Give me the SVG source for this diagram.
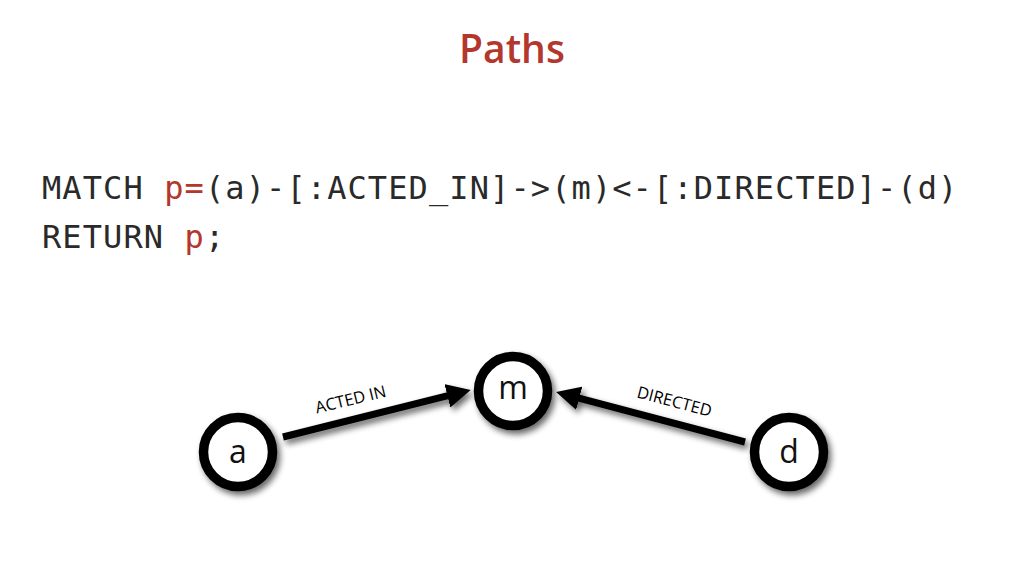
<svg xmlns="http://www.w3.org/2000/svg" width="1024" height="576" viewBox="0 0 1024 576">
<style>
.title{font-family:"Open Sans","Noto Sans",sans-serif;font-size:39px;font-weight:600;fill:#b3372d;text-anchor:middle}
.code{font-family:"DejaVu Sans Mono","Liberation Mono",monospace;font-size:32px;letter-spacing:1.1px;fill:#2a2a2a}
.red{fill:#b3372d}
.node circle{fill:#fff;stroke:#000;stroke-width:9.5}
.node text{font-family:"Open Sans","Noto Sans",sans-serif;font-size:32px;fill:#111;text-anchor:middle}
.edge line{stroke:#000;stroke-width:7}
.lbl{font-family:"Open Sans","Noto Sans",sans-serif;font-size:16.5px;fill:#000;text-anchor:middle}
</style>
<defs>
<filter id="sh" x="-30%" y="-30%" width="160%" height="160%">
<feGaussianBlur in="SourceAlpha" stdDeviation="3"/>
<feOffset dx="3" dy="4" result="b"/>
<feComponentTransfer><feFuncA type="linear" slope="0.6"/></feComponentTransfer>
<feMerge><feMergeNode/><feMergeNode in="SourceGraphic"/></feMerge>
</filter>
<marker id="ah" markerUnits="userSpaceOnUse" markerWidth="24" markerHeight="24" refX="14" refY="12" orient="auto">
<path d="M0,0 L24,12 L0,24 z" fill="#000"/>
</marker>
</defs>
<rect width="1024" height="576" fill="#fff"/>
<text class="title" x="512" y="63">Paths</text>
<text class="code" x="42" y="199">MATCH <tspan class="red">p=</tspan>(a)-[:ACTED_IN]-&gt;(m)&lt;-[:DIRECTED]-(d)</text>
<text class="code" x="42" y="248">RETURN <tspan class="red">p</tspan>;</text>
<g id="connectors" filter="url(#sh)">
<g class="edge" id="e1">
<line x1="283" y1="437" x2="461" y2="392.4" marker-end="url(#ah)"/>
</g>
<g class="edge" id="e2">
<line x1="745" y1="442" x2="565.7" y2="394.6" marker-end="url(#ah)"/>
</g>
</g>
<text class="lbl" transform="translate(352,405) rotate(-13.5)">ACTED IN</text>
<text class="lbl" transform="translate(673,407) rotate(14.8)">DIRECTED</text>
<g id="node-a" class="node">
<circle cx="238" cy="452" r="34.5" filter="url(#sh)"/>
<text x="238" y="463">a</text>
</g>
<g id="node-m" class="node">
<circle cx="513" cy="391" r="34.5" filter="url(#sh)"/>
<text x="513" y="399">m</text>
</g>
<g id="node-d" class="node">
<circle cx="789" cy="452" r="34.5" filter="url(#sh)"/>
<text x="789" y="463">d</text>
</g>
</svg>
